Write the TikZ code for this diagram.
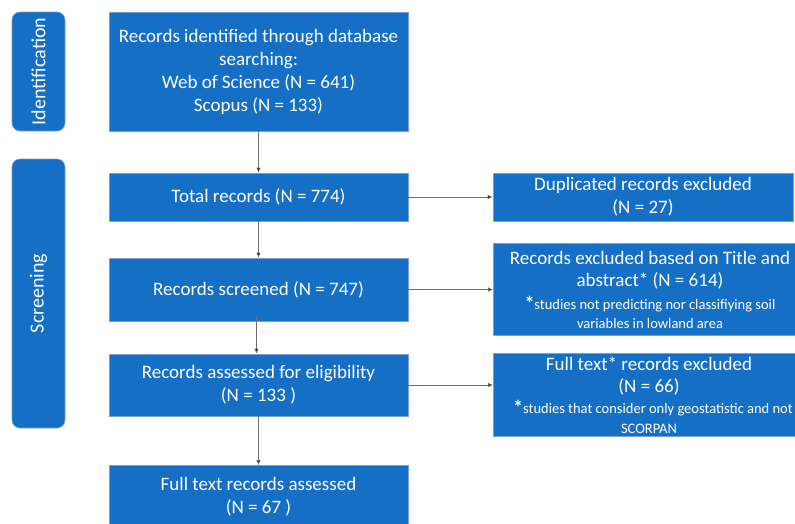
\documentclass[tikz,border=0pt]{standalone}
\usepackage{fontspec}
\setmainfont{Carlito}
\usetikzlibrary{arrows.meta}
\definecolor{boxblue}{RGB}{21,111,197}
\definecolor{edgeblue}{RGB}{120,160,210}
\definecolor{linegray}{RGB}{110,110,110}
\tikzset{
  box/.style={draw=edgeblue, line width=0.6pt, fill=boxblue, text=white, align=center, inner sep=0pt,
    font=\fontsize{19}{23}\selectfont},
  phase/.style={draw=edgeblue, line width=0.6pt, fill=boxblue, text=white, rounded corners=8pt, inner sep=0pt},
  bigline/.style={text=white, inner sep=0pt, font=\fontsize{19}{23}\selectfont},
  smallline/.style={text=white, inner sep=0pt, font=\fontsize{14.5}{18}\selectfont},
  arr/.style={draw=linegray, line width=0.7pt, -{Latex[length=5pt,width=4.5pt,fill=black]}},
}
\newcommand{\bigast}{{\fontsize{20}{20}\selectfont\raisebox{-1pt}{\textbf{*}}}}
\begin{document}
\begin{tikzpicture}[x=1pt,y=-1pt]
\useasboundingbox (0,0) rectangle (795,523);
\clip (0,0) rectangle (795,523);
% phase labels
\node[phase, minimum width=53, minimum height=119] (idlab) at (38.5,71.5) {};
\node[rotate=90, bigline, font=\fontsize{20}{23}\selectfont] (idtxt) at (idlab.center) {Identification};
\node[phase, minimum width=53, minimum height=269] (sclab) at (38.5,293.5) {};
\node[rotate=90, bigline, font=\fontsize{20}{23}\selectfont] (sctxt) at (sclab.center) {Screening};
% main column
\node[box, minimum width=299, minimum height=119] (id) at (258.5,71.5)
  {Records identified through database\\searching:\\Web of Science (N = 641)\\Scopus (N = 133)};
\node[box, minimum width=299, minimum height=48] (total) at (258.5,197) {Total records (N = 774)};
\node[box, minimum width=299, minimum height=63] (screened) at (258.5,289.5) {Records screened (N = 747)};
\node[box, minimum width=299, minimum height=62] (assessed) at (258.5,385)
  {Records assessed for eligibility\\(N = 133 )};
\node[box, minimum width=299, minimum height=70, anchor=north] (full) at (258.5,465) {};
\node[box, draw=none, fill=none] (fulltxt) at (258.5,496.5)
  {Full text records assessed\\(N = 67 )};
% right column
\node[box, minimum width=300, minimum height=48] (dup) at (643,197) {Duplicated records excluded\\(N = 27)};
\node[box, minimum width=306, minimum height=92, anchor=west] (title) at (493,289) {};
\node[bigline] (t1) at (650,258) {Records excluded based on Title and};
\node[bigline] (t2) at (650,280.5) {abstract* (N = 614)};
\node[smallline] (t3) at (650,304.5) {\bigast studies not predicting nor classifiying soil};
\node[smallline] (t4) at (650,323.5) {variables in lowland area};
\node[box, minimum width=306, minimum height=83, anchor=west] (fte) at (493,394.5) {};
\node[bigline] (f1) at (649,364) {Full text* records excluded};
\node[bigline] (f2) at (649,386.5) {(N = 66)};
\node[smallline] (f3) at (653,408) {\bigast studies that consider only geostatistic and not};
\node[smallline] (f4) at (649,429) {SCORPAN};
% connectors
\draw[arr] (id.south) -- (total.north);
\draw[arr] (total.south) -- (screened.north);
\draw[arr] ([xshift=-2pt,yshift=5pt]screened.south) -- ([xshift=-2pt]assessed.north);
\draw[arr] (assessed.south) -- (full.north);
\draw[arr] (total.east) -- (dup.west);
\draw[arr] (screened.east) -- (screened.east -| title.west);
\draw[arr] (assessed.east) -- (assessed.east -| fte.west);
\end{tikzpicture}
\end{document}
